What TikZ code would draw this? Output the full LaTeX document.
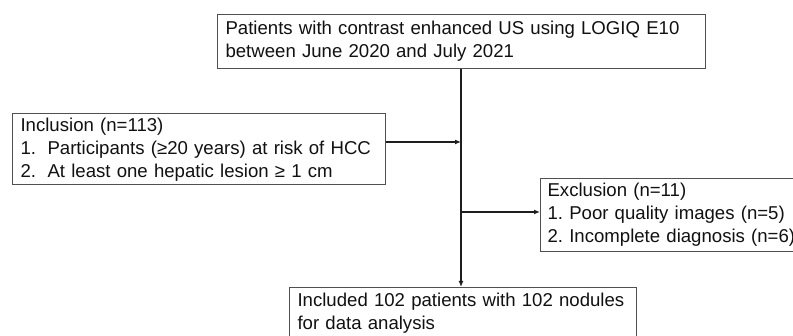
\documentclass[tikz,border=0pt]{standalone}
\usepackage{fontspec}
\setmainfont{Liberation Sans}
\usetikzlibrary{arrows.meta}
\definecolor{boxgray}{HTML}{505050}
\definecolor{linec}{HTML}{1E1E1E}
\definecolor{textc}{HTML}{111111}
\frenchspacing
\begin{document}
\begin{tikzpicture}[x=1pt,y=-1pt,
  box/.style={draw=boxgray, line width=1.1pt, fill=white, anchor=north west, align=left,
    inner xsep=8pt, inner ysep=4pt, font=\fontsize{18.6}{23}\selectfont, text=textc},
  conn/.style={draw=linec, line width=1.4pt, -{Latex[length=6pt,width=5pt]}}]
 \useasboundingbox (0,0) rectangle (793,336);
 \clip (0,0) rectangle (793,336);
 \fill[white] (0,0) rectangle (793,336);
 \node[box, text width=472pt, minimum height=54pt] (top) at (217,14)
   {Patients with contrast enhanced US using LOGIQ E10\\between June 2020 and July 2021};
 \node[box, text width=357pt, minimum height=67pt] (inc) at (12,113)
   {Inclusion (n=113)\\\makebox[27pt][l]{1.}Participants (≥20 years) at risk of HCC\\\makebox[27pt][l]{2.}At least one hepatic lesion ≥ 1 cm};
 \node[box, text width=290pt, minimum height=73pt, inner xsep=7pt] (exc) at (540,178)
   {Exclusion (n=11)\\1. Poor quality images (n=5)\\2. Incomplete diagnosis (n=6)};
 \node[box, text width=331pt, inner ysep=5pt] (bot) at (289,287)
   {Included 102 patients with 102 nodules\\for data analysis\rule[-30pt]{0pt}{0pt}};
 \coordinate (sp) at (461,0);
 \coordinate (ia) at (0,142);
 \coordinate (ea) at (0,212);
 \draw[conn] (top.south -| sp) -- (bot.north -| sp);
 \draw[conn] (inc.east |- ia) -- (sp |- ia);
 \draw[conn] (sp |- ea) -- (exc.west |- ea);
\end{tikzpicture}
\end{document}
